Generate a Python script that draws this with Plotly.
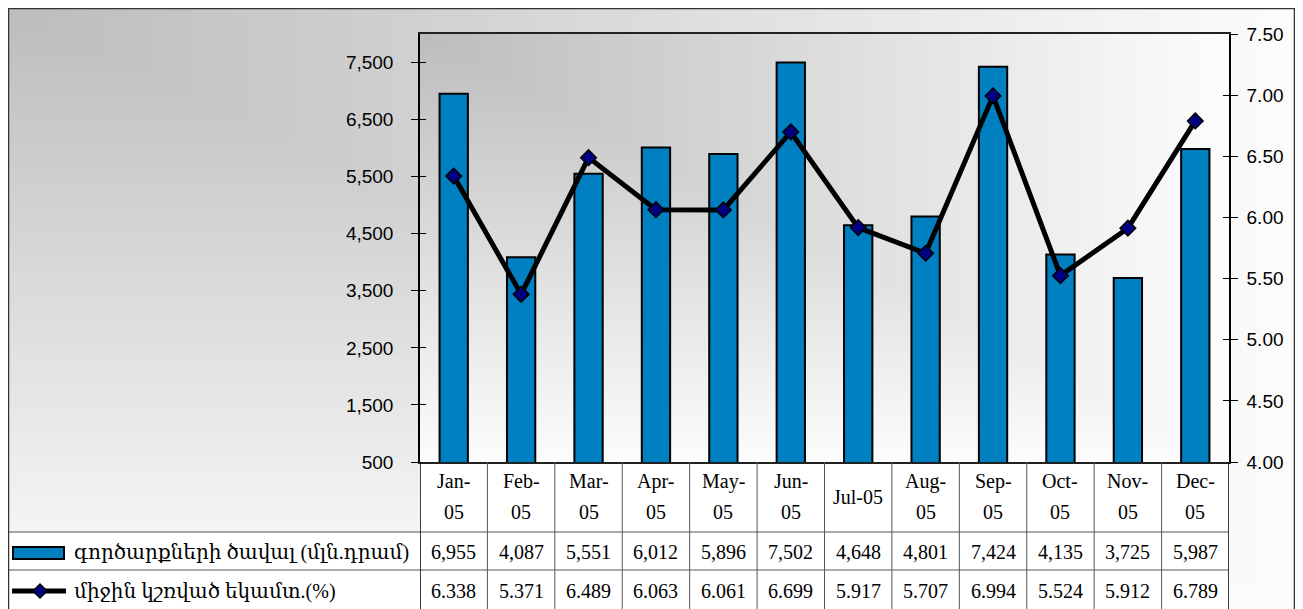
import base64, struct, zlib
import numpy as np
import plotly.graph_objects as go

# ---------------- data ----------------
months = ["Jan-05", "Feb-05", "Mar-05", "Apr-05", "May-05", "Jun-05",
          "Jul-05", "Aug-05", "Sep-05", "Oct-05", "Nov-05", "Dec-05"]
header_labels = ["Jan-<br>05", "Feb-<br>05", "Mar-<br>05", "Apr-<br>05", "May-<br>05", "Jun-<br>05",
                 "Jul-05", "Aug-<br>05", "Sep-<br>05", "Oct-<br>05", "Nov-<br>05", "Dec-<br>05"]
volume = [6955, 4087, 5551, 6012, 5896, 7502, 4648, 4801, 7424, 4135, 3725, 5987]
rate = [6.338, 5.371, 6.489, 6.063, 6.061, 6.699, 5.917, 5.707, 6.994, 5.524, 5.912, 6.789]
name_volume = "գործարքների ծավալ (մլն.դրամ)"
name_rate = "միջին կշռված եկամտ.(%)"
left_ticks = [500, 1500, 2500, 3500, 4500, 5500, 6500, 7500]
right_ticks = [4.0, 4.5, 5.0, 5.5, 6.0, 6.5, 7.0, 7.5]

# ---------------- geometry (figure pixels) ----------------
W, H = 1295, 601
L, R, T, B = 412, 1221, 26, 454          # plot area
PW, PH = R - L, B - T


def px(x):
    return (x - L) / PW


def py(y):
    return (B - y) / PH


# ---------------- gradient background as PNG ----------------
def png_gray(arr):
    h, w = arr.shape
    raw = b"".join(b"\x00" + arr[i].tobytes() for i in range(h))

    def chunk(t, d):
        c = struct.pack(">I", len(d)) + t + d
        return c + struct.pack(">I", zlib.crc32(t + d) & 0xFFFFFFFF)

    return (b"\x89PNG\r\n\x1a\n"
            + chunk(b"IHDR", struct.pack(">IIBBBBB", w, h, 8, 0, 0, 0, 0))
            + chunk(b"IDAT", zlib.compress(raw, 9))
            + chunk(b"IEND", b""))


xx, yy = np.meshgrid(np.arange(W, dtype=float), np.arange(H, dtype=float))
t = np.maximum(xx / W, yy / H)
inside = (xx >= L) & (xx <= R) & (yy >= T) & (yy <= B)
t2 = np.maximum((xx - L) / PW, (yy - T) / PH)
t = np.where(inside, t2, t)
g = np.clip(189 + 64 * t, 0, 255).astype(np.uint8)
img_uri = "data:image/png;base64," + base64.b64encode(png_gray(g)).decode()

BLUE = "#0080C0"
NAVY = "#000080"
SERIF = "Liberation Serif, Times New Roman, DejaVu Serif, serif"
SANS = "Liberation Sans, Arial, sans-serif"
TFS = 20   # table font size
AFS = 19   # axis font size

fig = go.Figure()
fig.add_trace(go.Bar(x=months, y=volume, name=name_volume, width=0.42,
                     marker=dict(color=BLUE, line=dict(color="black", width=2)),
                     yaxis="y"))
fig.add_trace(go.Scatter(x=months, y=rate, name=name_rate, yaxis="y2",
                         mode="lines+markers",
                         line=dict(color="black", width=5),
                         marker=dict(symbol="diamond", size=12, color=NAVY,
                                     line=dict(color="black", width=1.5))))
# helper axes for crossing tick marks
fig.add_trace(go.Scatter(x=[], y=[], yaxis="y3", showlegend=False))
fig.add_trace(go.Scatter(x=[], y=[], yaxis="y4", showlegend=False))

shapes = []
ann = []

# white data-table background
shapes.append(dict(type="rect", xref="paper", yref="paper", x0=px(L), x1=px(R),
                   y0=py(H + 5), y1=py(B), fillcolor="white", line=dict(width=0), layer="below"))
shapes.append(dict(type="rect", xref="paper", yref="paper", x0=px(0), x1=px(L),
                   y0=py(H + 5), y1=py(524), fillcolor="white", line=dict(width=0), layer="below"))

GRID = "#555555"
# horizontal table lines
for yline in (524, 562):
    shapes.append(dict(type="line", xref="paper", yref="paper", x0=px(0), x1=px(R),
                       y0=py(yline), y1=py(yline), line=dict(color=GRID, width=1)))
# vertical table lines at category boundaries
for k in range(len(months) + 1):
    shapes.append(dict(type="line", xref="x", yref="paper", x0=k - 0.5, x1=k - 0.5,
                       y0=py(B), y1=py(H + 5),
                       line=dict(color="black" if k in (0, len(months)) else GRID,
                                 width=1.5 if k in (0, len(months)) else 1)))

# outer border
shapes.append(dict(type="rect", xref="paper", yref="paper", x0=px(0), x1=px(1287),
                   y0=py(H + 10), y1=py(0), line=dict(color="#333333", width=2.5)))

# legend keys
shapes.append(dict(type="rect", xref="paper", yref="paper", x0=px(5), x1=px(56),
                   y0=py(551), y1=py(539), fillcolor=BLUE, line=dict(color="black", width=2)))
shapes.append(dict(type="line", xref="paper", yref="paper", x0=px(4), x1=px(58),
                   y0=py(583), y1=py(583), line=dict(color="black", width=5)))
cx, cy, d = 32, 583, 7
shapes.append(dict(type="path", xref="paper", yref="paper",
                   path=(f"M {px(cx - d)},{py(cy)} L {px(cx)},{py(cy - d)} "
                         f"L {px(cx + d)},{py(cy)} L {px(cx)},{py(cy + d)} Z"),
                   fillcolor=NAVY, line=dict(color="black", width=1.5)))

# legend texts
ann.append(dict(x=px(64), y=py(544), xref="paper", yref="paper", xanchor="left", yanchor="middle",
                text=name_volume, showarrow=False, font=dict(family=SERIF, size=TFS, color="black")))
ann.append(dict(x=px(64), y=py(583), xref="paper", yref="paper", xanchor="left", yanchor="middle",
                text=name_rate, showarrow=False, font=dict(family=SERIF, size=TFS, color="black")))

# header and values
for m, hl, v, r in zip(months, header_labels, volume, rate):
    parts = hl.split("<br>")
    if len(parts) == 2:
        for part, yy_ in zip(parts, (473, 504)):
            ann.append(dict(x=m, y=py(yy_), xref="x", yref="paper", text=part, showarrow=False,
                            yanchor="middle", font=dict(family=SERIF, size=TFS, color="black")))
    else:
        ann.append(dict(x=m, y=py(489), xref="x", yref="paper", text=parts[0], showarrow=False,
                        yanchor="middle", font=dict(family=SERIF, size=TFS, color="black")))
    ann.append(dict(x=m, y=py(544), xref="x", yref="paper", text=f"{v:,}", showarrow=False,
                    yanchor="middle", font=dict(family=SERIF, size=TFS, color="black")))
    ann.append(dict(x=m, y=py(583), xref="x", yref="paper", text=f"{r:.3f}", showarrow=False,
                    yanchor="middle", font=dict(family=SERIF, size=TFS, color="black")))

fig.update_layout(
    width=W, height=H,
    margin=dict(l=L, r=W - R, t=T, b=H - B, pad=0),
    paper_bgcolor="white", plot_bgcolor="rgba(0,0,0,0)",
    showlegend=False, bargap=0.58,
    images=[dict(source=img_uri, xref="paper", yref="paper", x=px(0), y=py(0),
                 sizex=W / PW, sizey=H / PH, xanchor="left", yanchor="top",
                 sizing="stretch", layer="below")],
    xaxis=dict(type="category", range=[-0.5, len(months) - 0.5], showticklabels=False,
               ticks="", showgrid=False, zeroline=False, showline=True, mirror=True,
               linecolor="#222222", linewidth=1.5),
    yaxis=dict(range=[500, 8000], tickvals=left_ticks, tickformat=",d", ticks="outside",
               ticklen=7, tickcolor="black", tickwidth=1, showline=True, linecolor="black",
               linewidth=1.5, showgrid=False, zeroline=False, ticklabelstandoff=14,
               tickfont=dict(family=SANS, size=AFS, color="black")),
    yaxis2=dict(range=[4, 7.5], tickvals=right_ticks, tickformat=".2f", overlaying="y",
                side="right", ticks="outside", ticklen=7, tickcolor="black", tickwidth=1,
                showline=True, linecolor="black", linewidth=1.5, showgrid=False, zeroline=False,
                ticklabelstandoff=5, tickfont=dict(family=SANS, size=AFS, color="black")),
    yaxis3=dict(range=[500, 8000], tickvals=left_ticks, overlaying="y", side="left",
                ticks="inside", ticklen=6, tickcolor="black", showticklabels=False,
                showgrid=False, zeroline=False, showline=False),
    yaxis4=dict(range=[4, 7.5], tickvals=right_ticks, overlaying="y", side="right",
                ticks="inside", ticklen=6, tickcolor="black", showticklabels=False,
                showgrid=False, zeroline=False, showline=False),
    shapes=shapes, annotations=ann,
)

fig.write_html("out.html")
